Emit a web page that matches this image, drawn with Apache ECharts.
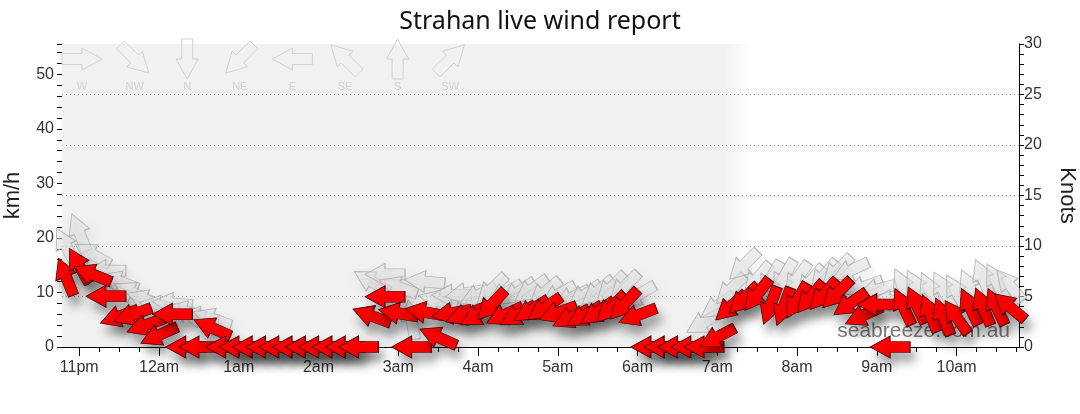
<!DOCTYPE html>
<html>
<head>
<meta charset="utf-8">
<script src="https://cdn.jsdelivr.net/npm/echarts@6/dist/echarts.min.js"></script>
<style>
  html, body { margin: 0; padding: 0; background: #fff; }
  #chart { width: 1080px; height: 414px; }
</style>
</head>
<body>
<div id="chart"></div>
<script>
'use strict';

// 10 minute readings, 10:50pm -> 10:40am
const times = ['22:50','23:00','23:10','23:20','23:30','23:40','23:50',
  '00:00','00:10','00:20','00:30','00:40','00:50',
  '01:00','01:10','01:20','01:30','01:40','01:50',
  '02:00','02:10','02:20','02:30','02:40','02:50',
  '03:00','03:10','03:20','03:30','03:40','03:50',
  '04:00','04:10','04:20','04:30','04:40','04:50',
  '05:00','05:10','05:20','05:30','05:40','05:50',
  '06:00','06:10','06:20','06:30','06:40','06:50',
  '07:00','07:10','07:20','07:30','07:40','07:50',
  '08:00','08:10','08:20','08:30','08:40','08:50',
  '09:00','09:10','09:20','09:30','09:40','09:50',
  '10:00','10:10','10:20','10:30','10:40']

// average wind, km/h
const avgSpeed = [12.9, 14.9, 13.3, 9.3, 5.6, 5.9, 4.0,
  2.2, 6.0, 0, 0, 3.5, 0,
  0, 0, 0, 0, 0, 0,
  0, 0, 0, 0, 5.7, 9.2,
  6.2, 0, 6.4, 1.8, 6.2, 5.9,
  5.9, 7.7, 5.9, 5.9, 6.8, 7.1,
  6.3, 5.4, 5.8, 6.4, 7.2, 7.8,
  5.8, 0, 0, 0, 0, 0,
  1.8, 7.4, 8.8, 9.6, 7.6, 7.4,
  8.5, 9.1, 9.6, 9.8, 8.0, 5.8,
  7.8, 0, 7.4, 7.7, 6.2, 5.6,
  5.5, 7.4, 7.4, 7.4, 7.4]

// direction the average wind comes from, degrees
const avgDir = [158, 150, 112, 90, 70, 70, 70,
  66, 90, 90, 90, 114, 90,
  90, 90, 90, 90, 90, 90,
  90, 90, 90, 90, 110, 90,
  100, 90, 100, 114, 80, 70,
  60, 43, 65, 60, 58, 55,
  70, 65, 60, 55, 45, 43,
  69, 90, 90, 90, 90, 90,
  62, 48, 45, 38, 20, 20,
  30, 40, 42, 45, 55, 65,
  90, 90, 155, 155, 158, 158,
  145, 155, 158, 155, 130]

// gusts, km/h
const gustSpeed = [18.5, 21, 17, 14, 12, 10, 8.6,
  7.5, 8, 6.5, 5.5, 5.2, 0,
  0, 0, 0, 0, 0, 0,
  0, 0, 0, 0, 12, 13.3,
  11, 5, 12, 8.5, 9.5, 9.8,
  9.5, 10.5, 9.8, 10, 10.5, 10,
  9.5, 9, 9.5, 10.2, 10.8, 11,
  9.5, 0, 0, 0, 0, 4.5,
  7.5, 10.5, 15, 12.5, 12.5, 12.8,
  12.5, 12, 13, 14, 14, 11,
  10.5, 8.5, 11, 10.8, 10.3, 10.5,
  10, 10.8, 12.6, 12, 11.3]

const gustDir = [152, 158, 120, 90, 110, 115, 110,
  100, 95, 105, 100, 110, 90,
  90, 90, 90, 90, 90, 90,
  90, 90, 90, 90, 120, 90,
  110, 170, 95, 105, 90, 80,
  65, 45, 60, 55, 55, 50,
  60, 65, 55, 50, 45, 45,
  60, 90, 90, 90, 90, 60,
  55, 45, 45, 40, 30, 30,
  35, 40, 40, 45, 65, 70,
  75, 90, 155, 152, 155, 152,
  150, 155, 158, 152, 140]

const compassNames = ['W', 'NW', 'N', 'NE', 'E', 'SE', 'S', 'SW']
const compassDirs = [270, 315, 0, 45, 90, 135, 180, 225]

const windowStart = '22:47'
const windowEnd = '10:47'
const nightEnd = '07:24'
const KMH_PER_KNOT = 1.852

// hours on one running clock: 11pm = 23, 1am = 25 ...
const toHours = (s) => {
  const p = s.split(':')
  let h = +p[0] + (+p[1]) / 60
  if (h < 12) h += 24
  return h
}
const hourLabel = (h) => {
  const hh = Math.round(h) % 24
  if (hh === 0) return '12am'
  if (hh === 12) return '12pm'
  return hh < 12 ? hh + 'am' : (hh - 12) + 'pm'
}

const xMin = toHours(windowStart)
const xMax = toHours(windowEnd)
const hourTicks = []
for (let h = Math.ceil(xMin); h <= xMax; h++) hourTicks.push(h)
const quarterTicks = []
for (let q = Math.ceil(xMin * 4) / 4; q <= xMax; q += 0.25) quarterTicks.push(q)

const ARROW = 'path://M0,5.5L20,5.5L20,0L40,11L20,22L20,16.5L0,16.5Z'
// arrow points where the wind goes
const rotFor = (from) => 270 - from

const avgData = times.map((t, i) => [toHours(t), avgSpeed[i], avgDir[i]])
const gustData = times.map((t, i) => [toHours(t), gustSpeed[i], gustDir[i]])

// compass legend across the top
const compass = []
compassNames.forEach((name, i) => {
  const cx = 82 + i * 52.6, cy = 59
  const a = rotFor(compassDirs[i]) * Math.PI / 180
  const d = [Math.cos(a), -Math.sin(a)], n = [Math.sin(a), Math.cos(a)]
  const local = [[-20, -5.5], [0, -5.5], [0, -11], [20, 0], [0, 11], [0, 5.5], [-20, 5.5]]
  const pts = local.map(p => [cx + p[0] * d[0] + p[1] * n[0], cy + p[0] * d[1] + p[1] * n[1]])
  compass.push({
    type: 'polygon', z: 20, silent: true,
    shape: { points: pts },
    style: { fill: 'rgba(0,0,0,0)', stroke: '#d2d2d2', lineWidth: 1 }
  })
  compass.push({
    type: 'text', z: 20, silent: true, x: cx, y: 87,
    style: { text: name, fill: '#d2d2d2', font: '11px "Liberation Sans"', align: 'center', verticalAlign: 'middle' }
  })
})

const myChart = echarts.init(document.getElementById('chart'))

const axisFont = { fontFamily: 'Liberation Sans', fontSize: 16, color: '#333' }

const option = {
  animation: false,
  backgroundColor: '#fff',
  title: {
    text: 'Strahan live wind report',
    left: 'center',
    top: 4,
    textStyle: { fontFamily: 'Noto Sans', fontWeight: 'normal', fontSize: 25, color: '#111' }
  },
  grid: { left: 62, right: 61, top: 44, bottom: 67, outerBoundsMode: 'none', containLabel: false },
  xAxis: [{
    type: 'value', min: xMin, max: xMax,
    axisLine: { lineStyle: { color: '#000' } },
    axisTick: { customValues: hourTicks, length: 9, lineStyle: { color: '#000' } },
    axisLabel: Object.assign({ customValues: hourTicks, margin: 13, formatter: hourLabel }, axisFont),
    splitLine: { show: false }
  }, {
    type: 'value', min: xMin, max: xMax, position: 'bottom',
    axisLine: { show: false },
    axisTick: { customValues: quarterTicks, length: 5, lineStyle: { color: '#000' } },
    axisLabel: { show: false },
    splitLine: { show: false }
  }],
  yAxis: [{
    type: 'value', position: 'left', min: 0, max: 30 * KMH_PER_KNOT, interval: 2,
    name: 'km/h', nameLocation: 'middle', nameRotate: 90, nameGap: 38,
    nameTextStyle: { fontFamily: 'Liberation Sans', fontSize: 22, color: '#222' },
    axisLine: { show: true, lineStyle: { color: '#000' } },
    axisTick: { show: true, length: 5, lineStyle: { color: '#000' } },
    axisLabel: Object.assign({
      margin: 8,
      formatter: (v) => Math.abs(v % 10) < 1e-6 && v <= 50 ? String(Math.round(v)) : ''
    }, axisFont),
    splitLine: { show: false }
  }, {
    type: 'value', position: 'right', min: 0, max: 30, interval: 1,
    name: 'Knots', nameLocation: 'middle', nameRotate: -90, nameGap: 37,
    nameTextStyle: { fontFamily: 'Liberation Sans', fontSize: 22, color: '#222' },
    axisLine: { show: true, lineStyle: { color: '#000' } },
    axisTick: { show: true, length: 5, lineStyle: { color: '#000' } },
    axisLabel: Object.assign({
      margin: 5,
      formatter: (v) => v % 5 === 0 ? String(v) : ''
    }, axisFont),
    splitLine: { show: false }
  }, {
    type: 'value', position: 'right', min: 0, max: 30, interval: 5, z: 1.5,
    axisLine: { show: false }, axisTick: { show: false }, axisLabel: { show: false },
    splitLine: { show: true, showMinLine: false, showMaxLine: false, lineStyle: { color: '#999', type: [1, 3], width: 1 } }
  }],
  graphic: compass.concat([{
    type: 'text', z: 1, silent: true, x: 1010, y: 331,
    style: {
      text: 'seabreeze.com.au', fill: 'rgba(100,100,100,0.85)', font: '21px "Liberation Sans"',
      align: 'right', verticalAlign: 'middle', backgroundColor: 'rgba(255,255,255,0.6)'
    }
  }]),
  series: [{
    // night shading
    type: 'line', data: [], z: 0, silent: true,
    markArea: {
      silent: true, z: 1,
      itemStyle: {
        color: new echarts.graphic.LinearGradient(0, 0, 1, 0, [
          { offset: 0, color: '#f1f1f1' },
          { offset: 0.965, color: '#f1f1f1' },
          { offset: 1, color: 'rgba(241,241,241,0)' }
        ])
      },
      data: [[{ xAxis: xMin }, { xAxis: toHours(nightEnd) }]]
    }
  }, {
    name: 'Gust',
    type: 'scatter', z: 2, clip: false, silent: true,
    symbol: ARROW, symbolSize: [40, 22],
    symbolRotate: (v) => rotFor(v[2]),
    itemStyle: {
      opacity: 1,
      color: 'rgba(226,226,226,0.55)', borderColor: 'rgba(165,165,165,0.75)', borderWidth: 1,
      shadowColor: 'rgba(0,0,0,0.10)', shadowBlur: 8, shadowOffsetX: 3, shadowOffsetY: 7
    },
    data: gustData
  }, {
    name: 'Average',
    type: 'scatter', z: 3, clip: false, silent: true,
    symbol: ARROW, symbolSize: [40, 22],
    symbolRotate: (v) => rotFor(v[2]),
    itemStyle: {
      opacity: 1,
      color: '#ff0000', borderColor: '#3a0000', borderWidth: 0.8,
      shadowColor: 'rgba(0,0,0,0.35)', shadowBlur: 10, shadowOffsetX: 4, shadowOffsetY: 9
    },
    data: avgData
  }]
}

myChart.setOption(option)
</script>
</body>
</html>
